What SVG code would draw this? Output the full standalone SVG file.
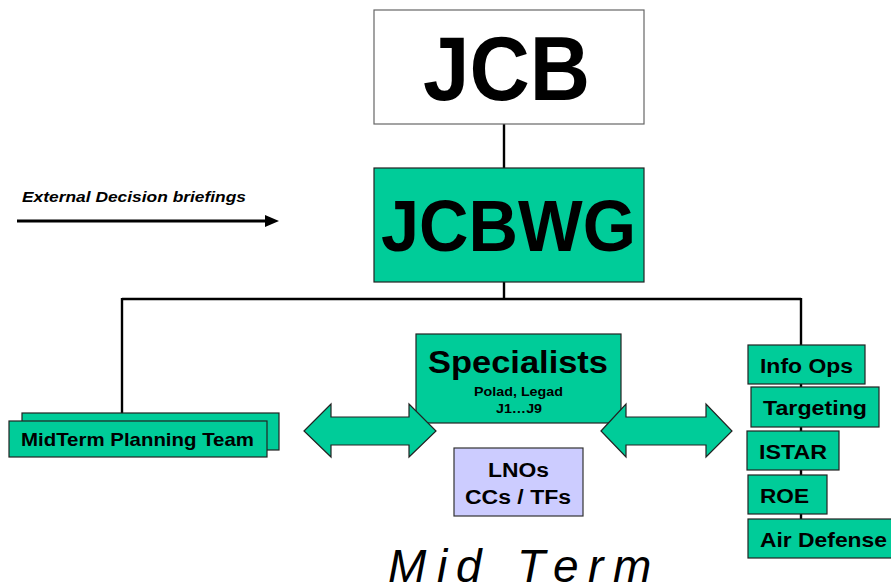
<svg xmlns="http://www.w3.org/2000/svg" width="891" height="587" viewBox="0 0 891 587">
  <style>
    .box { fill: #00CC99; stroke: #222; stroke-width: 1.2; }
    .lav { fill: #CCCCFF; stroke: #333; stroke-width: 1.2; }
    .wire { fill: none; stroke: #000; stroke-width: 2.4; }
    .arw { fill: #00CC99; stroke: #222; stroke-width: 1.2; stroke-linejoin: miter; }
    text { font-family: "Liberation Sans", Arial, Helvetica, sans-serif; fill: #000; }
    .b { font-weight: bold; }
    .lbl { font-weight: bold; font-size: 21px; }
    .title { font-weight: normal; font-style: italic; font-size: 46px; }
  </style>

  <rect width="891" height="587" fill="#fff"/>

  <!-- connectors -->
  <g id="connectors">
    <path class="wire" d="M504,124 V168"/>
    <path class="wire" d="M504,282 V299"/>
    <path class="wire" d="M122,299 H801"/>
    <path class="wire" d="M122,298 V413"/>
    <path class="wire" d="M801,298 V520"/>
    <path d="M17,221 H267" stroke="#000" stroke-width="2.8"/>
    <polygon points="265,215 279,221 265,227" fill="#000"/>
  </g>

  <g id="external-label">
    <text class="b" x="22" y="202" font-size="15" font-style="italic" textLength="224" lengthAdjust="spacingAndGlyphs">External Decision briefings</text>
  </g>

  <g id="jcb">
    <rect x="374" y="10" width="270" height="114" fill="#fff" stroke="#666" stroke-width="1.2"/>
    <text class="b" x="423" y="100" font-size="90" textLength="167" lengthAdjust="spacingAndGlyphs">JCB</text>
  </g>

  <g id="jcbwg">
    <rect class="box" x="374" y="168" width="270" height="114"/>
    <text class="b" x="381" y="251" font-size="72" textLength="255" lengthAdjust="spacingAndGlyphs">JCBWG</text>
  </g>

  <g id="midterm-team">
    <rect class="box" x="22" y="413" width="257" height="37"/>
    <rect class="box" x="9" y="421" width="258" height="36"/>
    <text class="b" x="21" y="446" font-size="19" textLength="233" lengthAdjust="spacingAndGlyphs">MidTerm Planning Team</text>
  </g>

  <g id="specialists">
    <rect class="box" x="416" y="334" width="205" height="89"/>
    <text class="b" x="428" y="373" font-size="31" textLength="180" lengthAdjust="spacingAndGlyphs">Specialists</text>
    <text class="b" x="474" y="396" font-size="13" textLength="89" lengthAdjust="spacingAndGlyphs">Polad, Legad</text>
    <text class="b" x="496" y="413" font-size="13" textLength="46" lengthAdjust="spacingAndGlyphs">J1…J9</text>
  </g>

  <g id="arrow-left">
    <polygon class="arw" points="304,431 331,404 331,417 409,417 409,404 436,431 409,457 409,445 331,445 331,457"/>
  </g>
  <g id="arrow-right">
    <polygon class="arw" points="601,431 626,404 626,417 706,417 706,404 732,431 706,457 706,445 626,445 626,457"/>
  </g>

  <g id="lnos">
    <rect class="lav" x="454" y="448" width="129" height="68"/>
    <text class="b" x="488" y="477" font-size="20" textLength="61" lengthAdjust="spacingAndGlyphs">LNOs</text>
    <text class="b" x="465" y="504" font-size="20" textLength="106" lengthAdjust="spacingAndGlyphs">CCs / TFs</text>
  </g>

  <g id="info-ops">
    <rect class="box" x="748" y="345" width="117" height="39"/>
    <text class="lbl" x="760" y="373" textLength="93" lengthAdjust="spacingAndGlyphs">Info Ops</text>
  </g>
  <g id="targeting">
    <rect class="box" x="751" y="387" width="128" height="40"/>
    <text class="lbl" x="763" y="415" textLength="104" lengthAdjust="spacingAndGlyphs">Targeting</text>
  </g>
  <g id="istar">
    <rect class="box" x="747" y="431" width="92" height="39"/>
    <text class="lbl" x="759" y="459" textLength="68" lengthAdjust="spacingAndGlyphs">ISTAR</text>
  </g>
  <g id="roe">
    <rect class="box" x="748" y="475" width="79" height="39"/>
    <text class="lbl" x="760" y="503" textLength="49" lengthAdjust="spacingAndGlyphs">ROE</text>
  </g>
  <g id="air-defense">
    <rect class="box" x="748" y="519" width="145" height="39"/>
    <text class="lbl" x="760" y="547" textLength="127" lengthAdjust="spacingAndGlyphs">Air Defense</text>
  </g>

  <g id="title">
    <text class="title" x="388 437 456 517 553 588 613" y="582">MidTerm</text>
  </g>
</svg>
